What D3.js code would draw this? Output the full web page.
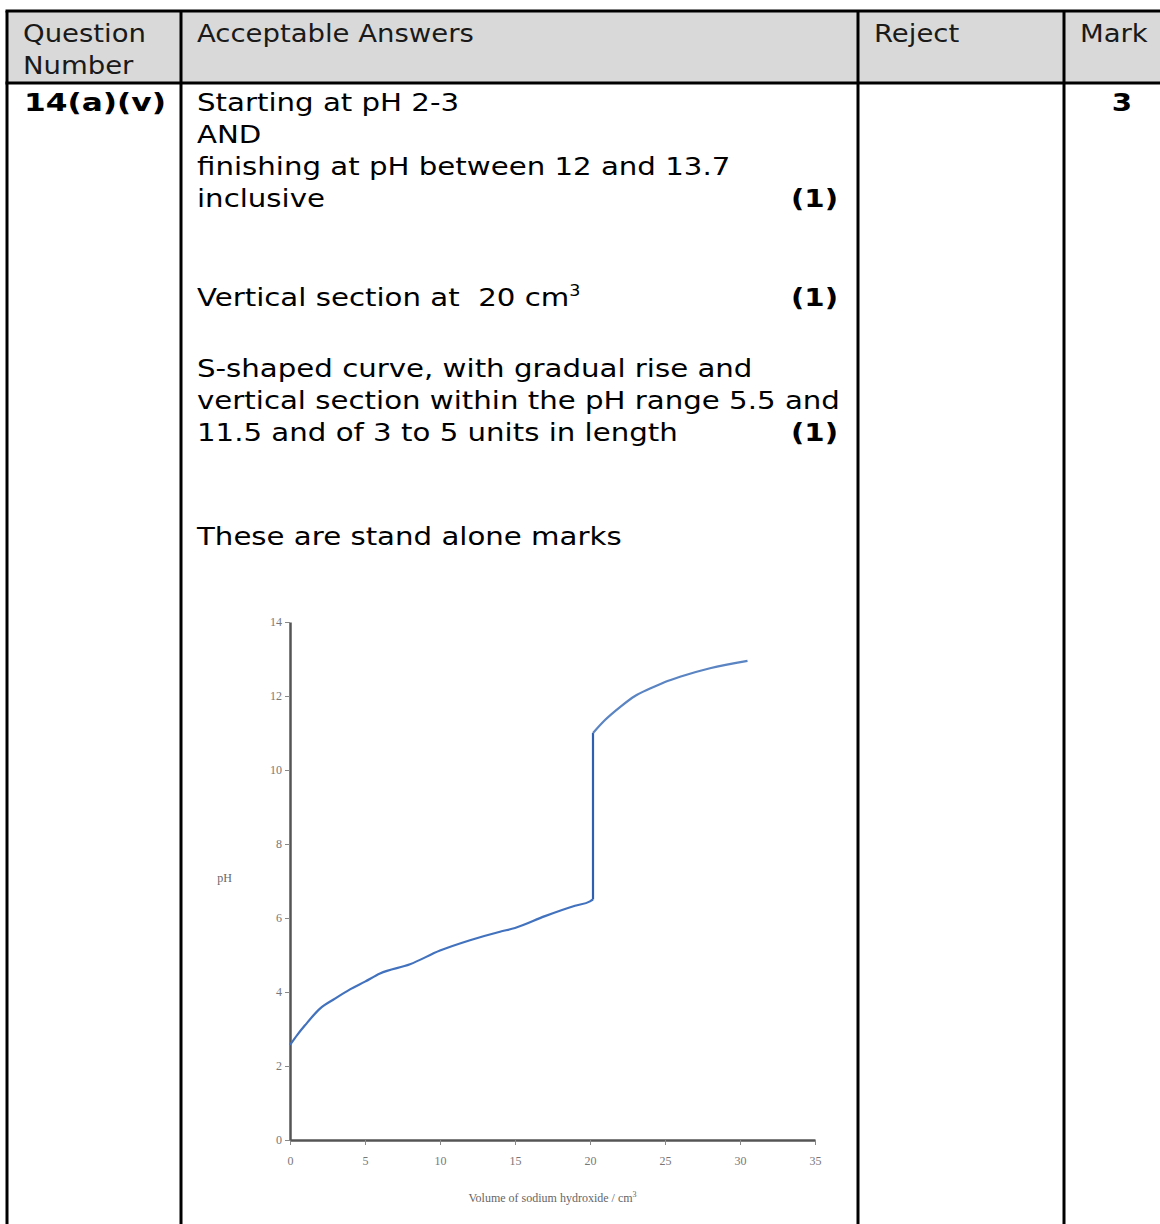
<!DOCTYPE html>
<html>
<head>
<meta charset="utf-8">
<script src="https://cdn.jsdelivr.net/npm/d3@7"></script>
<style>
  body { margin: 0; background: #fff; }
  svg text { font-family: "DejaVu Sans", Verdana, sans-serif; white-space: pre; }
  .tick text { font-family: "Liberation Serif", "Times New Roman", serif; }
</style>
</head>
<body>
<div id="chart"></div>
<script>
// titration data
var volume = [0, 0.5, 1, 2, 3, 4, 5, 6, 8, 10, 12, 14, 15, 17, 19, 20, 20.2, 20.2, 21, 22, 23, 24, 25, 26, 28, 30.5];
var pH = [2.57, 2.85, 3.1, 3.55, 3.82, 4.07, 4.28, 4.5, 4.75, 5.12, 5.4, 5.63, 5.73, 6.05, 6.33, 6.45, 6.5, 11.0, 11.35, 11.7, 12.0, 12.2, 12.38, 12.52, 12.75, 12.95];
var xTicks = [0, 5, 10, 15, 20, 25, 30, 35];
var yTicks = [0, 2, 4, 6, 8, 10, 12, 14];

var headers = ["Question|Number", "Acceptable Answers", "Reject", "Mark"];
var answerLines = [
    {text: "Starting at pH 2-3", y: 111},
    {text: "AND", y: 143},
    {text: "finishing at pH between 12 and 13.7", y: 175},
    {text: "inclusive", y: 207, mark: "(1)"},
    {text: "Vertical section at  20 cm", sup: "3", y: 306, mark: "(1)"},
    {text: "S-shaped curve, with gradual rise and", y: 377},
    {text: "vertical section within the pH range 5.5 and", y: 409},
    {text: "11.5 and of 3 to 5 units in length", y: 441, mark: "(1)"},
    {text: "These are stand alone marks", y: 545}
];

var svgWidth = 1160;
var svgHeight = 1224;
var stretch = 1.17; // the scan is wider than it is tall

var svg = d3.select("#chart")
    .append("svg")
    .attr("width", svgWidth)
    .attr("height", svgHeight);

// place a piece of table text, stretched sideways like the scan
function addText(x, y, str, bold, anchor, sx) {
    return svg.append("text")
        .attr("transform", `translate(${x}, ${y}) scale(${sx || stretch}, 1)`)
        .attr("font-size", 25)
        .attr("font-weight", bold ? "bold" : "normal")
        .attr("text-anchor", anchor || "start")
        .attr("fill", "#000")
        .text(str);
}

// table layout
var colX = [7, 181, 858, 1064, 1166];
var tableTop = 11;
var headerBottom = 83;

svg.append("rect")
    .attr("x", colX[0])
    .attr("y", tableTop)
    .attr("width", colX[4] - colX[0])
    .attr("height", headerBottom - tableTop)
    .attr("fill", "#d9d9d9");

var grid = svg.append("g")
    .attr("stroke", "#000")
    .attr("stroke-width", 3);

grid.append("line")
    .attr("x1", colX[0] - 1.5).attr("x2", colX[4])
    .attr("y1", tableTop).attr("y2", tableTop);
grid.append("line")
    .attr("x1", colX[0] - 1.5).attr("x2", colX[4])
    .attr("y1", headerBottom).attr("y2", headerBottom);
colX.slice(0, 4).forEach(function(x) {
    grid.append("line")
        .attr("x1", x).attr("x2", x)
        .attr("y1", tableTop).attr("y2", svgHeight + 2);
});

// header text
headers.forEach(function(h, i) {
    h.split("|").forEach(function(part, j) {
        addText(colX[i] + 16, 42 + j * 32, part, false, "start", 1.1).attr("fill", "#1a1a1a");
    });
});

addText(colX[0] + 17, 111, "14(a)(v)", true, "start", 1.25);
addText(1122, 111, "3", true, "middle");

// answer text
answerLines.forEach(function(d) {
    var t = addText(colX[1] + 16, d.y, d.text);
    if (d.sup) {
        t.append("tspan")
            .attr("dy", -10)
            .attr("font-size", 15)
            .text(d.sup);
    }
    if (d.mark) {
        addText(838, d.y, d.mark, true, "end");
    }
});

// the titration graph
var plot = {left: 290, right: 815, top: 622, bottom: 1140};

var xScale = d3.scaleLinear()
    .domain([0, 35])
    .range([plot.left, plot.right]);

var yScale = d3.scaleLinear()
    .domain([0, 14])
    .range([plot.bottom, plot.top]);

var xAxis = svg.append("g")
    .attr("transform", `translate(0, ${plot.bottom})`)
    .call(d3.axisBottom(xScale).tickValues(xTicks).tickSize(5).tickSizeOuter(0));

var yAxis = svg.append("g")
    .attr("transform", `translate(${plot.left}, 0)`)
    .call(d3.axisLeft(yScale).tickValues(yTicks).tickSize(5).tickSizeOuter(0));

[xAxis, yAxis].forEach(function(ax) {
    ax.select(".domain").attr("stroke", "#555").attr("stroke-width", 2.5);
    ax.selectAll(".tick line").attr("stroke", "#888").attr("stroke-width", 1);
    ax.selectAll(".tick text")
        .attr("fill", "#777")
        .attr("font-size", 12);
});
xAxis.selectAll(".tick text").attr("dy", "1.4em");

// lower buffer region, the jump at the end point, then the excess alkali
var line = d3.line()
    .x(function(d) { return xScale(d[0]); })
    .y(function(d) { return yScale(d[1]); });

var points = volume.map(function(v, i) { return [v, pH[i]]; });

var segments = [
    {pts: points.slice(0, 17), color: "#4272bd", curve: d3.curveMonotoneX},
    {pts: points.slice(16, 18), color: "#2f5fb0", curve: d3.curveLinear},
    {pts: points.slice(17), color: "#5a84c2", curve: d3.curveMonotoneX}
];

segments.forEach(function(s) {
    svg.append("path")
        .datum(s.pts)
        .attr("fill", "none")
        .attr("stroke", s.color)
        .attr("stroke-width", 2.2)
        .attr("d", line.curve(s.curve));
});

// axis labels
svg.append("text")
    .attr("x", 232)
    .attr("y", 882)
    .attr("text-anchor", "end")
    .attr("font-size", 12)
    .attr("fill", "#666")
    .style("font-family", "Liberation Serif, serif")
    .text("pH");

var xTitle = svg.append("text")
    .attr("x", (plot.left + plot.right) / 2)
    .attr("y", 1202)
    .attr("text-anchor", "middle")
    .attr("font-size", 12)
    .attr("fill", "#666")
    .style("font-family", "Liberation Serif, serif")
    .text("Volume of sodium hydroxide / cm");
xTitle.append("tspan")
    .attr("dy", -5)
    .attr("font-size", 8)
    .text("3");
</script>
</body>
</html>
